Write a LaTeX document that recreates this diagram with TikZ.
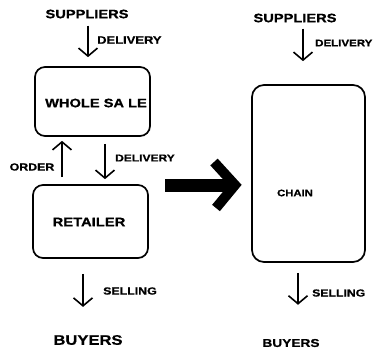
\documentclass[tikz,border=0pt]{standalone}
\usepackage{fontspec}
\newfontfamily\lab[FakeStretch=1.2,BoldFeatures={FakeBold=0.8}]{Liberation Sans}
\usetikzlibrary{arrows.meta}
\newcommand\fsz[1]{\lab\bfseries\fontsize{#1}{#1}\selectfont}
\begin{document}
\begin{tikzpicture}[x=1pt,y=-1pt,
  txt/.style={inner sep=0pt,font=\lab\bfseries},
  box/.style={draw,line width=1.7pt,rounded corners=10pt,inner sep=0pt},
  arr/.style={line width=1.6pt,-{Straight Barb[length=8pt,width=19pt,line width=1.6pt]}},
  bigbar/.style={line width=13pt},
  chev/.style={line width=10pt,line join=miter}]
\useasboundingbox (0,0) rectangle (374,351);
% left column
\node[txt,font=\fsz{12.2}] (sup1) at (87,14) {SUPPLIERS};
\node[box,minimum width=115pt,minimum height=69pt] (whole) at (92.5,101.5) {};
\node[txt,font=\fsz{12.2}] (wtxt) at (96,103) {WHOLE SA LE};
\node[box,minimum width=115pt,minimum height=73pt] (retail) at (90.5,221.5) {};
\node[txt,font=\fsz{12.3}] (rtxt) at (89,222) {RETAILER};
\node[txt,font=\fsz{13.8}] (buy1) at (88,340) {BUYERS};
\node[txt,anchor=west,font=\fsz{10.8}] (del1) at (97,40) {DELIVERY};
\node[txt,anchor=west,font=\fsz{10}] (del2) at (115,158) {DELIVERY};
\node[txt,font=\fsz{10.3}] (ord) at (32,167) {ORDER};
\node[txt,anchor=west,font=\fsz{10.3}] (sel1) at (103,291) {SELLING};
% right column
\node[txt,font=\fsz{12.2}] (sup2) at (295,18) {SUPPLIERS};
\node[box,rounded corners=12pt,minimum width=113pt,minimum height=177pt] (chain) at (308.5,173.5) {};
\node[txt,font=\fsz{9.4}] (ctxt) at (295,193) {CHAIN};
\node[txt,font=\fsz{11.4}] (buy2) at (291,343) {BUYERS};
\node[txt,anchor=west,font=\fsz{9.6}] (del3) at (315,43) {DELIVERY};
\node[txt,anchor=west,font=\fsz{10.2}] (sel2) at (312,293) {SELLING};
% connectors left
\coordinate (a1) at ([xshift=1pt]sup1.south);
\draw[arr,shorten <=7pt,shorten >=9pt] (a1) -- (a1 |- whole.north);
\coordinate (a2) at ([xshift=12.5pt]whole.south);
\draw[arr,shorten <=7pt,shorten >=5pt] (a2) -- (a2 |- retail.north);
\coordinate (a3) at ([xshift=-28.5pt]retail.north);
\draw[arr,shorten <=7pt,shorten >=4pt] (a3) -- (a3 |- whole.south);
\coordinate (a4) at ([xshift=-7.5pt]retail.south);
\draw[arr,shorten <=15pt,shorten >=28pt] (a4) -- (a4 |- buy1.north);
% connectors right
\coordinate (b1) at ([xshift=8pt]sup2.south);
\draw[arr,shorten <=6pt,shorten >=23pt] (b1) -- (b1 |- chain.north);
\coordinate (b2) at ([xshift=-10.5pt]chain.south);
\draw[arr,shorten <=10pt,shorten >=34pt] (b2) -- (b2 |- buy2.north);
% big transformation arrow
\coordinate (bs) at (165,185);
\coordinate (be) at (228,185);
\coordinate (ct) at (235,185);
\draw[bigbar] (bs) -- (be);
\draw[chev] (214,162) -- (ct) -- (216,208);
\end{tikzpicture}
\end{document}
